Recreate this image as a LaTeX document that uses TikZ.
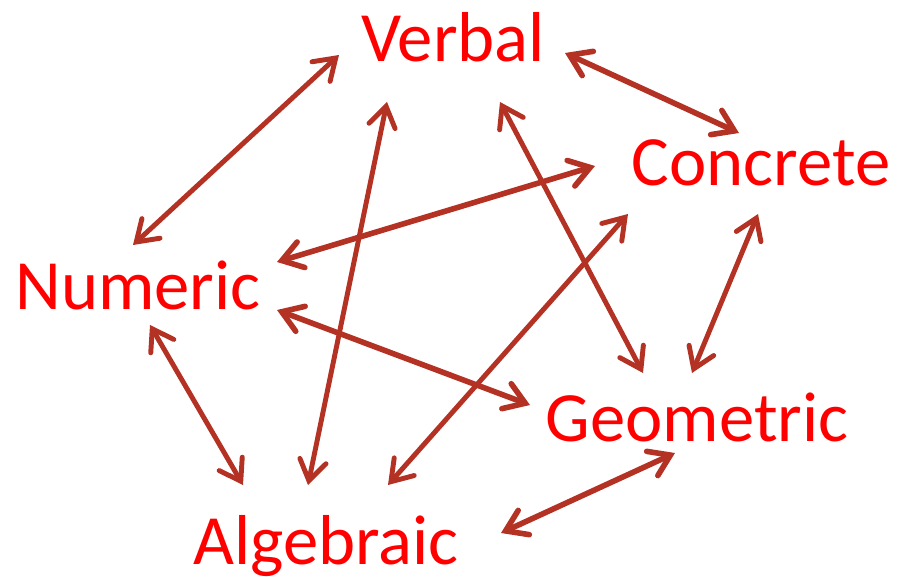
\documentclass[tikz,border=0pt]{standalone}
\usepackage{fontspec}
\setmainfont{Carlito}
\usepackage{xcolor}
\usetikzlibrary{arrows.meta}

\definecolor{linkred}{RGB}{180,50,35}

\begin{document}
\begin{tikzpicture}[
    x=0.75pt, y=-0.75pt,
    rep/.style={inner sep=0pt, anchor=base, text=red, font=\fontsize{53}{60}\selectfont},
    link/.style={{Straight Barb[length=15pt, width=20pt, line cap=round]}-{Straight Barb[length=15pt, width=20pt, line cap=round]}, draw=linkred, line width=3.7pt},
    boldlink/.style={link, line width=4.2pt},
]
\useasboundingbox (0,0) rectangle (897,577);

% Representations
\node[rep] (verbal) at (453,62) {Verbal};
\node[rep] (concrete) at (761,186) {Concrete};
\node[rep] (numeric) at (138,310) {Numeric};
\node[rep] (geometric) at (697,441) {Geometric};
\node[rep] (algebraic) at (326,565) {Algebraic};

% Verbal links
\draw[link] ([shift={(-114,-7)}]verbal.base) -- ([shift={(-5,-65)}]numeric.base);
\draw[boldlink] ([shift={(112,-9)}]verbal.base) -- ([shift={(-22,-53)}]concrete.base);
\draw[link] ([shift={(-66,40)}]verbal.base) -- ([shift={(-18,-80)}]algebraic.base);
\draw[link] ([shift={(47,40)}]verbal.base) -- ([shift={(-54,-68)}]geometric.base);

% Concrete links
\draw[boldlink] ([shift={(-166,-20)}]concrete.base) -- ([shift={(139,-48)}]numeric.base);
\draw[link] ([shift={(-133,28)}]concrete.base) -- ([shift={(62,-80)}]algebraic.base);
\draw[link] ([shift={(-3,28)}]concrete.base) -- ([shift={(-5,-68)}]geometric.base);

% Numeric links
\draw[boldlink] ([shift={(139,0)}]numeric.base) -- ([shift={(-167,-36)}]geometric.base);
\draw[link] ([shift={(12,15)}]numeric.base) -- ([shift={(-83,-80)}]algebraic.base);

% Geometric -- Algebraic
\draw[boldlink] ([shift={(-22,12)}]geometric.base) -- ([shift={(175,-32)}]algebraic.base);
\end{tikzpicture}
\end{document}
